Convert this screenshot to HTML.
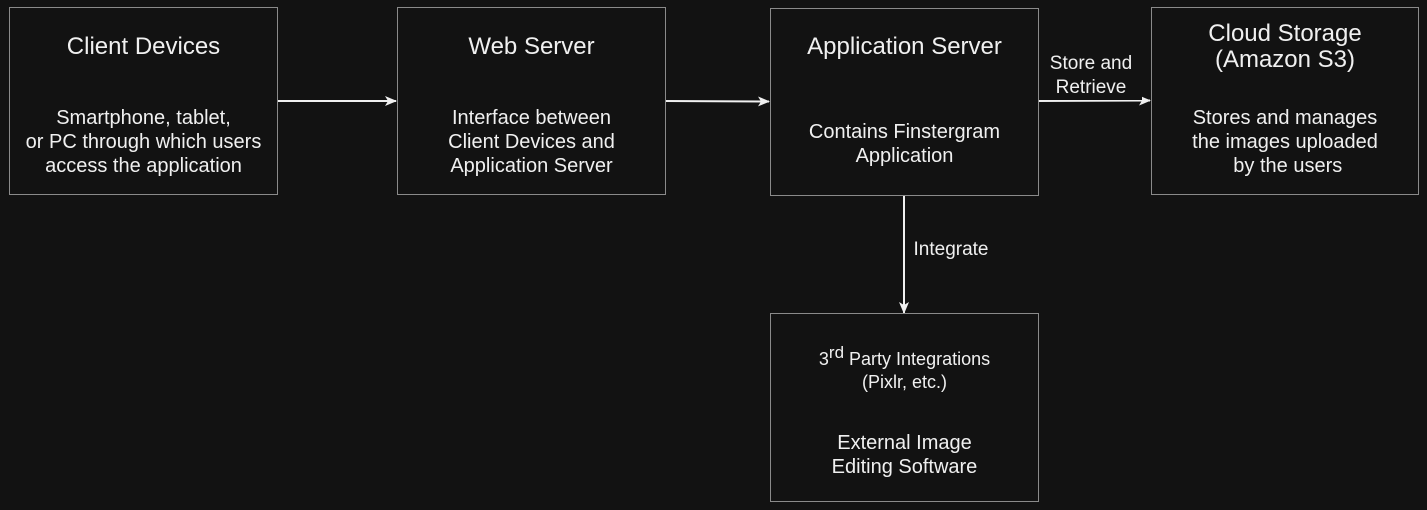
<!DOCTYPE html>
<html><head><meta charset="utf-8"><style>
html,body{margin:0;padding:0;background:#121212;width:1427px;height:510px;overflow:hidden;font-family:"Liberation Sans",Arial,sans-serif;color:#f0f0f0}
.b{position:absolute;border:1px solid #8a8a8a;box-sizing:border-box;background:#121212;text-align:center}
.t{position:absolute;left:0;right:0;font-size:24px;line-height:26px}
.d{position:absolute;left:0;right:0;font-size:20px;line-height:24px}
.l{position:absolute;font-size:19px;line-height:24px;text-align:center}
</style></head><body>
<svg width="1427" height="510" style="position:absolute;left:0;top:0">
<defs><marker id="a" markerWidth="14" markerHeight="14" refX="11" refY="6" orient="auto" markerUnits="userSpaceOnUse"><path d="M0,1 L12,6 L0,11 L3,6 Z" fill="#f0f0f0"/></marker></defs>
<g stroke="#f0f0f0" stroke-width="2" fill="none">
<line x1="277" y1="101" x2="396" y2="101" marker-end="url(#a)"/>
<line x1="665" y1="101" x2="769" y2="101.5" marker-end="url(#a)"/>
<line x1="1038" y1="101" x2="1150" y2="100.5" marker-end="url(#a)"/>
<line x1="904" y1="195" x2="904" y2="313" marker-end="url(#a)"/>
</g></svg>
<div class="b" style="left:9px;top:7px;width:269px;height:188px">
<div class="t" style="top:26px">Client Devices</div>
<div class="d" style="top:98px">Smartphone, tablet,<br>or PC through which users<br>access the application</div></div>
<div class="b" style="left:397px;top:7px;width:269px;height:188px">
<div class="t" style="top:26px">Web Server</div>
<div class="d" style="top:98px">Interface between<br>Client Devices and<br>Application Server</div></div>
<div class="b" style="left:770px;top:8px;width:269px;height:188px">
<div class="t" style="top:25px">Application Server</div>
<div class="d" style="top:111px">Contains Finstergram<br>Application</div></div>
<div class="b" style="left:1151px;top:7px;width:268px;height:188px">
<div class="t" style="top:13px">Cloud Storage<br>(Amazon S3)</div>
<div class="d" style="top:98px">Stores and manages<br>the images uploaded<br>&nbsp;by the users</div></div>
<div class="b" style="left:770px;top:313px;width:269px;height:189px">
<div class="d" style="top:34px;font-size:18px;line-height:23px">3<sup style="font-size:17px;line-height:0">rd</sup> Party Integrations<br>(Pixlr, etc.)</div>
<div class="d" style="top:117px">External Image<br>Editing Software</div></div>
<div class="l" style="left:1040px;top:52px;width:102px;background:#121212">Store and<br>Retrieve</div>
<div class="l" style="left:906px;top:238px;width:90px;background:#121212">Integrate</div>
</body></html>
